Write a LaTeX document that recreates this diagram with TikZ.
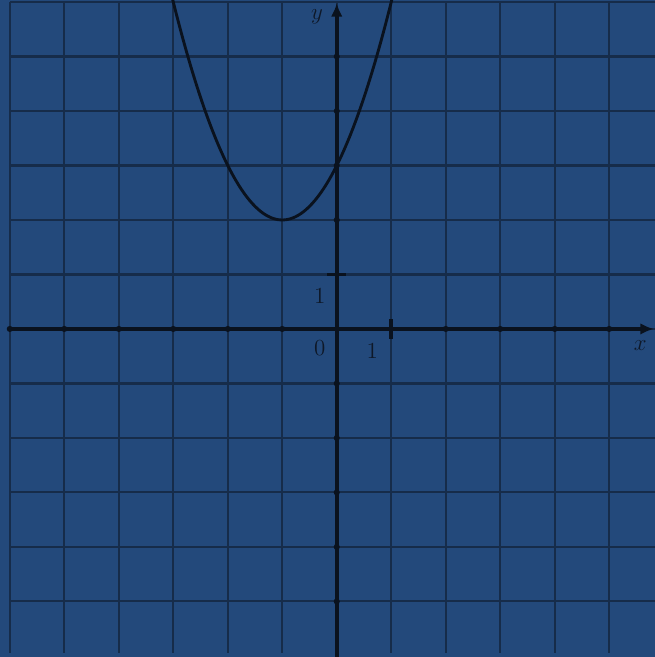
\documentclass[tikz,border=0pt]{standalone}
\usetikzlibrary{arrows.meta}
\definecolor{bgblue}{RGB}{35,73,123}
\definecolor{gridc}{RGB}{22,44,74}
\definecolor{axisc}{RGB}{10,18,30}
\definecolor{labc}{RGB}{14,24,40}
\begin{document}
\begin{tikzpicture}[x=1cm,y=1cm,
  gridline/.style={gridc,line width=1.1pt},
  axisline/.style={axisc,line width=2pt},
  curve/.style={axisc,line width=1.5pt},
  lab/.style={labc,font=\large,inner sep=0pt}]
\fill[bgblue] (-6.18,-6.02) rectangle (5.84,6.037);
\useasboundingbox (-6.18,-6.02) rectangle (5.84,6.037);
% grid
\foreach \i in {-6,...,5} \draw[gridline] (\i,-5.94) -- (\i,6.0);
\foreach \j in {-5,...,6} \draw[gridline] (-6,\j) -- (5.84,\j);
% axes
\coordinate (xl) at (-6,0);
\coordinate (xr) at (5.82,0);
\coordinate (yb) at (0,-6.02);
\coordinate (yt) at (0,5.98);
\draw[axisline,-{Latex[length=7pt,width=6pt]}] (xl) -- (xr);
\draw[axisline,-{Latex[length=7pt,width=6pt]}] (yb) -- (yt);
% ticks
\coordinate (tx) at (1,0);
\coordinate (ty) at (0,1);
\draw[axisc,line width=2pt] ([yshift=-5pt]tx) -- ([yshift=5pt]tx);
\draw[axisc,line width=2pt] ([xshift=-5pt]ty) -- ([xshift=5pt]ty);
\foreach \i in {-6,...,-1,2,3,4,5} \fill[axisc] (\i,0) circle (1.6pt);
\foreach \j in {-5,...,-1,2,3,4,5} \fill[axisc] (0,\j) circle (1.6pt);
% curve
\begin{scope}
\clip (-6.18,-6.02) rectangle (5.84,6.037);
\draw[curve] plot[domain=-3.06:1.06,samples=80,smooth] (\x,{(\x+1)^2+2});
\end{scope}
% labels
\node[lab] (o) at (-0.31,-0.36) {$0$};
\node[lab] (l1x) at (0.65,-0.40) {$1$};
\node[lab] (l1y) at (-0.31,0.60) {$1$};
\node[lab] (ly) at (-0.36,5.72) {$y$};
\node[lab] (lx) at (5.57,-0.30) {$x$};
\end{tikzpicture}
\end{document}
